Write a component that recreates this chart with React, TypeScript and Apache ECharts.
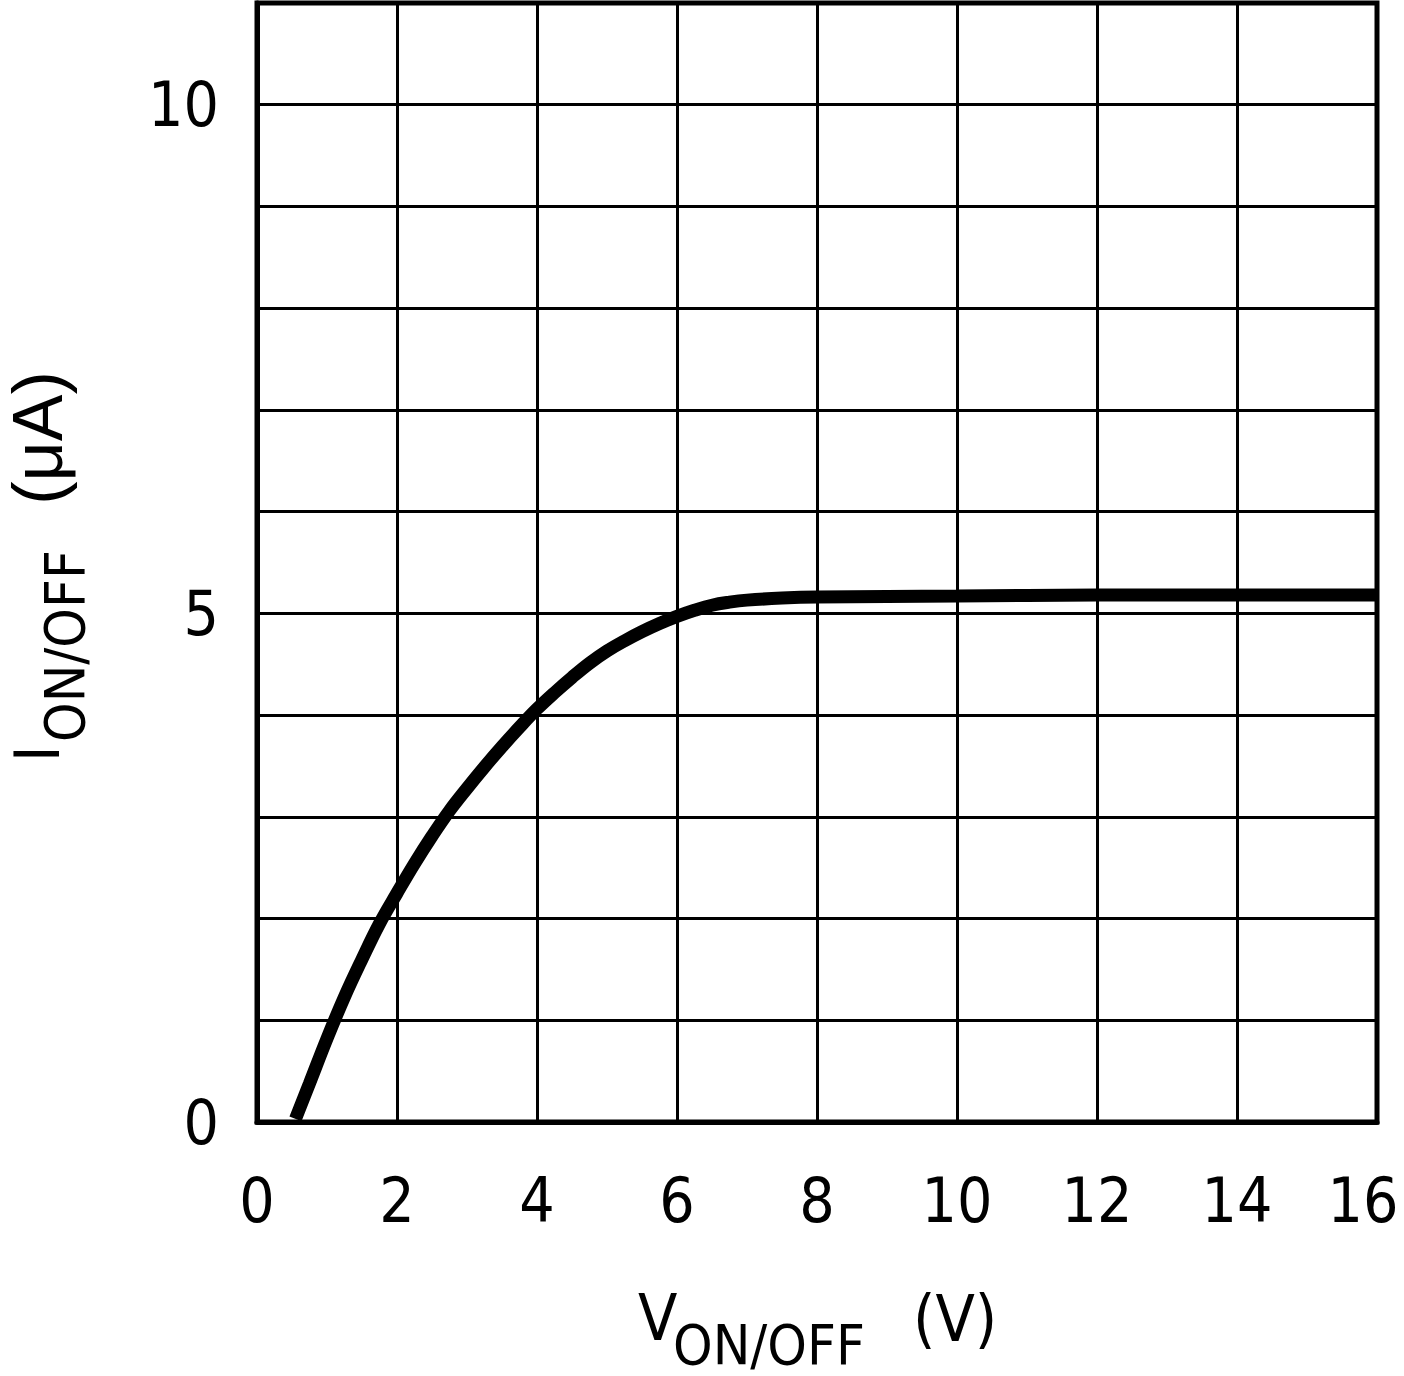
import React, { useEffect, useRef } from "react";
import * as echarts from "echarts";

const vOnOff = [0.55, 0.75, 1.0, 1.25, 1.5, 1.75, 2.0, 2.25, 2.5, 2.75, 3.0, 3.25, 3.5, 3.75, 4.0, 4.25, 4.5, 4.75, 5.0, 5.25, 5.5, 5.75, 6.0, 6.25, 6.5, 6.75, 7.0, 7.5, 8, 10, 12, 14, 16];
const iOnOff = [0.03, 0.38, 0.82, 1.23, 1.6, 1.95, 2.25, 2.54, 2.81, 3.06, 3.28, 3.49, 3.69, 3.88, 4.06, 4.22, 4.37, 4.51, 4.63, 4.73, 4.82, 4.9, 4.97, 5.03, 5.08, 5.11, 5.13, 5.15, 5.16, 5.17, 5.18, 5.18, 5.18];
const yTickLabels = ["0", "5", "10"];

const FONT = '"Liberation Sans Narrow", "DejaVu Sans Condensed", "Liberation Sans", sans-serif';

export default function App() {
  const ref = useRef<HTMLDivElement>(null);
  useEffect(() => {
    document.body.style.margin = "0";
    document.body.style.overflow = "hidden";
    document.documentElement.style.overflow = "hidden";
    const chart = echarts.init(ref.current!, null, { renderer: "svg", width: 1404, height: 1376 });
    chart.setOption({
      animation: false,
      backgroundColor: "#fff",
      grid: {
        left: 257,
        top: 3,
        right: 27,
        bottom: 254,
        show: true,
        borderColor: "#000",
        borderWidth: 5,
        backgroundColor: "transparent",
        outerBoundsMode: "none",
        containLabel: false,
      },
      xAxis: {
        type: "value",
        min: 0,
        max: 16,
        interval: 2,
        axisLine: { show: true, lineStyle: { color: "#000", width: 5 } },
        axisTick: { show: false },
        splitLine: { show: true, lineStyle: { color: "#000", width: 3 } },
        axisLabel: {
          color: "#000",
          fontSize: 62,
          fontFamily: FONT,
          margin: 47,
          formatter: (v: number) => (v === 16 ? "{last|" + v + "}" : String(v)),
          rich: {
            last: { fontSize: 62, fontFamily: FONT, color: "#000", padding: [0, 28, 0, 0] },
          },
        },
      },
      yAxis: {
        type: "value",
        min: 0,
        max: 11,
        interval: 1,
        axisLine: { show: true, lineStyle: { color: "#000", width: 5 } },
        axisTick: { show: false },
        splitLine: { show: true, lineStyle: { color: "#000", width: 3 } },
        axisLabel: {
          color: "#000",
          fontSize: 62,
          fontFamily: FONT,
          margin: 38,
          formatter: (v: number) => (yTickLabels.includes(String(v)) ? String(v) : ""),
        },
      },
      series: [
        {
          type: "line",
          data: vOnOff.map((x, i) => [x, iOnOff[i]]),
          showSymbol: false,
          smooth: 0.4,
          lineStyle: { color: "#000", width: 13, cap: "butt" },
          z: 5,
        },
      ],
      graphic: [
        { type: "text", x: 638, y: 1318, style: { text: "V", fontSize: 64, fontFamily: FONT, fill: "#000", align: "left", verticalAlign: "middle" } },
        { type: "text", x: 673, y: 1344, style: { text: "ON/OFF", fontSize: 56, fontFamily: FONT, fill: "#000", align: "left", verticalAlign: "middle" } },
        { type: "text", x: 913, y: 1319, style: { text: "(V)", fontSize: 64, fontFamily: FONT, fill: "#000", align: "left", verticalAlign: "middle" } },
        { type: "text", x: 37, y: 762, rotation: Math.PI / 2, style: { text: "I", fontSize: 62, fontFamily: FONT, fill: "#000", align: "left", verticalAlign: "middle" } },
        { type: "text", x: 64, y: 742, rotation: Math.PI / 2, style: { text: "ON/OFF", fontSize: 56, fontFamily: FONT, fill: "#000", align: "left", verticalAlign: "middle" } },
        { type: "text", x: 38, y: 438, rotation: Math.PI / 2, style: { text: "(μA)", fontSize: 70, fontFamily: '"Liberation Sans", sans-serif', fill: "#000", align: "center", verticalAlign: "middle" } },
      ],
    });
    return () => chart.dispose();
  }, []);
  return <div ref={ref} style={{ width: 1404, height: 1376, background: "#fff" }} />;
}
